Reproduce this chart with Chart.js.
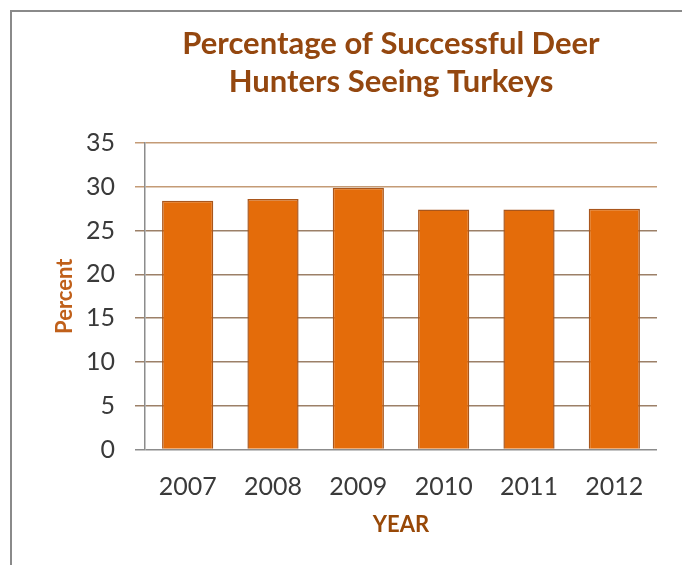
<!DOCTYPE html>
<html>
<head>
<meta charset="utf-8">
<script src="https://cdn.jsdelivr.net/npm/chart.js@4/dist/chart.umd.min.js"></script>
<style>
  html, body { margin: 0; padding: 0; background: #fff; }
  #wrap { position: relative; width: 682px; height: 565px; overflow: hidden; }
  #frame { position: absolute; left: 10px; top: 10px; width: 720px; height: 620px;
           border-left: 2px solid #8a8a8a; border-top: 2px solid #8a8a8a; }
  canvas { position: absolute; left: 0; top: 0; }
</style>
</head>
<body>
<div id="wrap">
  <div id="frame"></div>
  <canvas id="turkeyChart" width="682" height="565"></canvas>
</div>
<script>
const years = ['2007', '2008', '2009', '2010', '2011', '2012'];
const percentSeeing = [28.4, 28.6, 29.9, 27.4, 27.4, 27.5];
const yTicks = [0, 5, 10, 15, 20, 25, 30, 35];

const titleLines = ['Percentage of Successful Deer', 'Hunters Seeing Turkeys'];
const font = 'Lato';

function gridColor(ctx) {
    const v = ctx.tick ? ctx.tick.value : 0;
    if (v === 0) return '#8c8c8c';
    if (v >= 30) return '#c49b76';
    return '#9c8068';
}

// title sits a little left of the plot centre, so widen its box leftwards
const nudgeTitle = {
    id: 'nudgeTitle',
    afterLayout(chart) {
        const t = chart.titleBlock;
        if (t) { t.left -= 20; t.width += 20; }
    }
};

const ctx = document.getElementById('turkeyChart').getContext('2d');
new Chart(ctx, {
    type: 'bar',
    data: {
        labels: years,
        datasets: [{
            label: 'Percent',
            data: percentSeeing,
            backgroundColor: '#e46c0a',
            borderColor: '#a9561c',
            borderWidth: 1.5,
            categoryPercentage: 1,
            barPercentage: 0.6
        }]
    },
    options: {
        responsive: false,
        animation: false,
        layout: { padding: { top: 10, left: 50, right: 25, bottom: 27 } },
        plugins: {
            legend: { display: false },
            tooltip: { enabled: false },
            title: {
                display: true,
                text: titleLines,
                fullSize: false,
                color: '#94470f',
                font: { family: font, size: 31, weight: 'bold', lineHeight: 1.226 },
                padding: { top: 15, bottom: 42 }
            }
        },
        scales: {
            x: {
                grid: { display: false, drawTicks: false },
                border: { display: false },
                ticks: { color: '#3a3a3a', padding: 22, font: { family: font, size: 25 } },
                title: {
                    display: true,
                    text: 'YEAR',
                    color: '#984807',
                    font: { family: font, size: 22, weight: 'bold', lineHeight: 1.2 },
                    padding: { top: -12, bottom: 0 }
                }
            },
            y: {
                min: 0,
                max: 35,
                afterBuildTicks: (scale) => { scale.ticks = yTicks.map(v => ({ value: v })); },
                afterFit: (scale) => { scale.width = 95; },
                grid: { color: gridColor, lineWidth: 1.5, tickLength: 10 },
                border: { color: '#8c8c8c', width: 1.5 },
                ticks: { color: '#3a3a3a', padding: 20, font: { family: font, size: 25 } },
                title: {
                    display: true,
                    text: 'Percent',
                    color: '#c0601a',
                    font: { family: font, size: 22, weight: 'bold', lineHeight: 1.2 },
                    padding: { top: 2, bottom: 0 }
                }
            }
        }
    },
    plugins: [nudgeTitle]
});
</script>
</body>
</html>
